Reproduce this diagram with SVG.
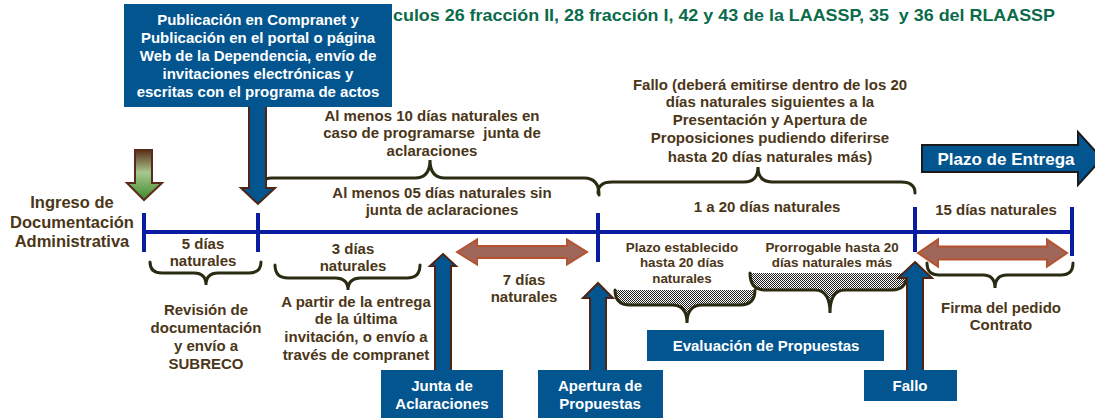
<svg xmlns="http://www.w3.org/2000/svg" width="1095" height="418" viewBox="0 0 1095 418">
<defs>
<style>
text{font-family:"Liberation Sans",Arial,sans-serif;font-weight:bold;}
.br{fill:#4b3618;font-size:15px;text-anchor:middle;}
.sm{fill:#4b3618;font-size:13.4px;text-anchor:middle;}
.wt{fill:#ffffff;font-size:15px;text-anchor:middle;}
.box{fill:#03558f;}
.up{fill:#03558f;stroke:#4e2414;stroke-width:2;}
.brace{fill:none;stroke:#2b2a12;stroke-width:3;stroke-linecap:round;}
.tl{stroke:#0a1ca0;stroke-width:4;fill:none;}
.dbl{fill:#9e675a;stroke:#b5532e;stroke-width:2;}
</style>
<pattern id="dots" width="2" height="2" patternUnits="userSpaceOnUse">
<rect width="2" height="2" fill="#ffffff"/>
<rect width="1" height="1" fill="#1e1e1e"/>
<rect x="1" y="1" width="1" height="1" fill="#1e1e1e"/>
</pattern>
<linearGradient id="grn" x1="0" y1="0" x2="0" y2="1">
<stop offset="0" stop-color="#5a2e1c"/>
<stop offset="0.45" stop-color="#a8c78c"/>
<stop offset="1" stop-color="#3c8a2c"/>
</linearGradient>
</defs>
<rect width="1095" height="418" fill="#ffffff"/>

<g id="title">
<text x="393" y="21" font-size="17" fill="#0a6b4a" textLength="662" lengthAdjust="spacingAndGlyphs" xml:space="preserve">culos 26 fracción II, 28 fracción I, 42 y 43 de la LAASSP, 35  y 36 del RLAASSP</text>
</g>

<g id="connectors">
<line class="tl" x1="144" y1="232" x2="1073" y2="232"/>
<line class="tl" x1="144" y1="213" x2="144" y2="252"/>
<line class="tl" x1="258" y1="213" x2="258" y2="252"/>
<line class="tl" x1="598" y1="213" x2="598" y2="262"/>
<line class="tl" x1="915" y1="207" x2="915" y2="252"/>
<line class="tl" x1="1072" y1="207" x2="1072" y2="256"/>
<path class="brace" d="M257,195 Q257,178 272,178 L415,178 Q430,178 430,160 Q430,178 445,178 L584,178 Q599,178 599,195"/>
<path class="brace" d="M598,193 Q598,182 612,182 L744,182 Q758,182 758,167 Q758,182 772,182 L901,182 Q915,182 915,193"/>
<path class="brace" d="M150,262 Q150,273 162,273 L194,273 Q206,273 206,285 Q206,273 218,273 L249,273 Q261,273 261,262"/>
<path class="brace" d="M275,265 Q275,278 288,278 L335,278 Q348,278 348,290 Q348,278 361,278 L407,278 Q420,278 420,265"/>
<path d="M615,290 Q615,305 630,305 L672,305 Q687,305 687,323 Q687,305 702,305 L740,305 Q755,305 755,290 Z" fill="url(#dots)"/>
<path class="brace" d="M615,290 Q615,305 630,305 L672,305 Q687,305 687,323 Q687,305 702,305 L740,305 Q755,305 755,290"/>
<path d="M750,273 Q750,290 765,290 L815,290 Q830,290 830,313 Q830,290 845,290 L892,290 Q907,290 907,273 Z" fill="url(#dots)"/>
<path class="brace" d="M750,273 Q750,290 765,290 L815,290 Q830,290 830,313 Q830,290 845,290 L892,290 Q907,290 907,273"/>
<path class="brace" d="M927,263 Q927,275 939,275 L983,275 Q995,275 995,288 Q995,275 1007,275 L1061,275 Q1073,275 1073,263"/>
<path class="dbl" d="M457,252 L477,239.5 L477,246 L567,246 L567,239.5 L587,252 L567,264.5 L567,258 L477,258 L477,264.5 Z"/>
<path class="dbl" d="M918,253 L938,239.5 L938,246.5 L1047,246.5 L1047,239.5 L1067,253 L1047,266.5 L1047,259.5 L938,259.5 L938,266.5 Z"/>
<path d="M135,150 L152,150 L152,183 L162,183 L144,200 L127,183 L135,183 Z" fill="url(#grn)" stroke="#5a2a1a" stroke-width="2"/>
<path class="up" d="M249,106 L266,106 L266,188 L275,188 L258,204 L241,188 L249,188 Z"/>
<path class="up" d="M443,254 L456,266 L451,266 L451,371 L435,371 L435,266 L430,266 Z"/>
<path class="up" d="M598,283 L613,298 L606,298 L606,371 L590,371 L590,298 L583,298 Z"/>
<path class="up" d="M915,262 L932,278 L923,278 L923,371 L907,371 L907,278 L898,278 Z"/>
</g>

<g id="publicacion">
<rect class="box" x="124" y="4" width="268" height="103"/>
<text class="wt" x="258" y="25">Publicación en Compranet y</text>
<text class="wt" x="258" y="43">Publicación en el portal o página</text>
<text class="wt" x="258" y="61">Web de la Dependencia, envío de</text>
<text class="wt" x="258" y="79">invitaciones electrónicas y</text>
<text class="wt" x="258" y="97">escritas con el programa de actos</text>
</g>

<g id="ingreso">
<text class="br" style="font-size:16.5px" x="72" y="208">Ingreso de</text>
<text class="br" style="font-size:16.5px" x="72" y="228">Documentación</text>
<text class="br" style="font-size:16.5px" x="72" y="247">Administrativa</text>
</g>

<g id="cinco-dias">
<text class="br" x="203" y="249">5 días</text>
<text class="br" x="203" y="266">naturales</text>
</g>

<g id="revision">
<text class="br" x="206" y="315">Revisión de</text>
<text class="br" x="206" y="333">documentación</text>
<text class="br" x="206" y="351">y envío a</text>
<text class="br" x="206" y="369">SUBRECO</text>
</g>

<g id="tres-dias">
<text class="br" x="353" y="254">3 días</text>
<text class="br" x="353" y="271">naturales</text>
</g>

<g id="a-partir">
<text class="br" x="356" y="307">A partir de la entrega</text>
<text class="br" x="356" y="324">de la última</text>
<text class="br" x="356" y="342">invitación, o envío a</text>
<text class="br" x="356" y="360">través de compranet</text>
</g>

<g id="diez-dias">
<text class="br" x="432" y="121">Al menos 10 días naturales en</text>
<text class="br" x="432" y="138" xml:space="preserve">caso de programarse  junta de</text>
<text class="br" x="432" y="156">aclaraciones</text>
</g>

<g id="cinco-sin">
<text class="br" x="442" y="198">Al menos 05 días naturales sin</text>
<text class="br" x="442" y="215">junta de aclaraciones</text>
</g>

<g id="siete-dias">
<text class="br" x="524" y="285">7 días</text>
<text class="br" x="524" y="302">naturales</text>
</g>

<g id="fallo-nota">
<text class="br" x="770" y="90">Fallo (deberá emitirse dentro de los 20</text>
<text class="br" x="770" y="107">días naturales siguientes a la</text>
<text class="br" x="770" y="125">Presentación y Apertura de</text>
<text class="br" x="770" y="143">Proposiciones pudiendo diferirse</text>
<text class="br" x="770" y="162">hasta 20 días naturales más)</text>
</g>

<g id="uno-veinte">
<text class="br" x="767" y="212">1 a 20 días naturales</text>
</g>

<g id="quince-dias">
<text class="br" x="996" y="215">15 días naturales</text>
</g>

<g id="plazo-entrega">
<path d="M922,145 L1078,145 L1078,132 L1102,158.5 L1078,185 L1078,172 L922,172 Z" fill="#03558f" stroke="#1a1a1a" stroke-width="2"/>
<text class="wt" style="font-size:17px" x="1006" y="165">Plazo de Entrega</text>
</g>

<g id="plazo-establecido">
<text class="sm" x="682" y="252">Plazo establecido</text>
<text class="sm" x="682" y="267">hasta 20 días</text>
<text class="sm" x="682" y="283">naturales</text>
</g>

<g id="prorrogable">
<text class="sm" x="832" y="252">Prorrogable hasta 20</text>
<text class="sm" x="832" y="267">días naturales más</text>
</g>

<g id="evaluacion">
<rect class="box" x="647" y="330" width="237" height="31"/>
<text class="wt" x="766" y="351">Evaluación de Propuestas</text>
</g>

<g id="firma">
<text class="br" x="1001" y="313">Firma del pedido</text>
<text class="br" x="1001" y="330">Contrato</text>
</g>

<g id="junta">
<rect class="box" x="381" y="370" width="122" height="48"/>
<text class="wt" x="442" y="391">Junta de</text>
<text class="wt" x="442" y="409">Aclaraciones</text>
</g>

<g id="apertura">
<rect class="box" x="538" y="370" width="125" height="48"/>
<text class="wt" x="600" y="391">Apertura de</text>
<text class="wt" x="600" y="409">Propuestas</text>
</g>

<g id="fallo">
<rect class="box" x="864" y="370" width="93" height="31"/>
<text class="wt" x="910" y="391">Fallo</text>
</g>
</svg>
